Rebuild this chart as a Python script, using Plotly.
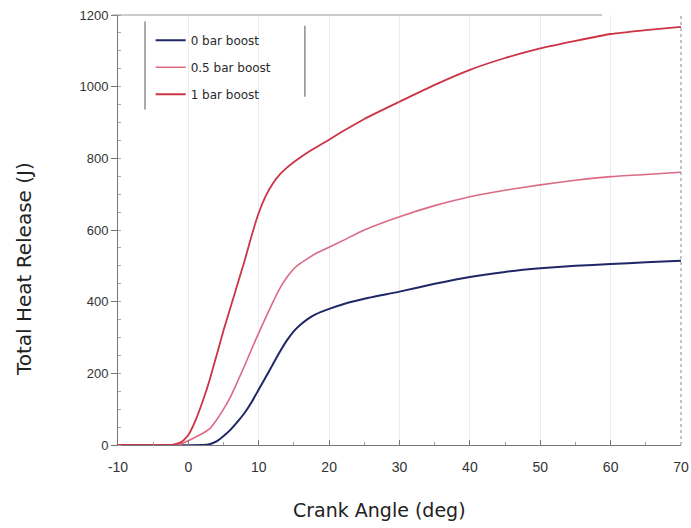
import plotly.graph_objects as go

# Crank angle (deg) and total heat release (J) for each boost level
x_0bar = [-10, 2, 3, 4, 5, 6, 7, 8, 9, 10, 11, 12, 13, 14, 15, 16, 17, 18, 20, 22, 25, 30, 35, 40, 45, 50, 55, 60, 65, 70]
y_0bar = [0, 0, 2, 10, 25, 43, 65, 90, 120, 155, 190, 225, 260, 292, 318, 337, 352, 364, 380, 393, 408, 428, 450, 469, 483, 493, 500, 505, 510, 514]

x_05bar = [-10, -2, -1, 0, 1, 2, 3, 4, 5, 6, 7, 8, 9, 10, 11, 12, 13, 14, 15, 16, 17, 18, 20, 22, 25, 30, 35, 40, 45, 50, 55, 60, 65, 70]
y_05bar = [0, 0, 3, 12, 22, 32, 45, 70, 100, 135, 178, 222, 268, 313, 356, 398, 437, 468, 492, 508, 521, 533, 552, 571, 600, 637, 668, 693, 711, 726, 739, 749, 755, 761]

x_1bar = [-10, -3, -2, -1, 0, 1, 2, 3, 4, 5, 6, 7, 8, 9, 10, 11, 12, 13, 14, 15, 16, 17, 18, 20, 22, 25, 30, 35, 40, 45, 50, 55, 60, 65, 70]
y_1bar = [0, 0, 2, 8, 28, 68, 120, 180, 250, 320, 385, 450, 515, 585, 648, 695, 730, 755, 774, 790, 804, 817, 829, 852, 876, 910, 958, 1005, 1047, 1080, 1107, 1128, 1147, 1158, 1167]

series_names = ["0 bar boost", "0.5 bar boost", "1 bar boost"]
x_ticks = [-10, 0, 10, 20, 30, 40, 50, 60, 70]
y_ticks = [0, 200, 400, 600, 800, 1000, 1200]
x_title = "Crank Angle (deg)"
y_title = "Total Heat Release (J)"

FONT = "Liberation Sans, Arial, sans-serif"
WIDE = "DejaVu Sans, Verdana, sans-serif"

fig = go.Figure()
fig.add_trace(go.Scatter(x=x_0bar, y=y_0bar, mode="lines", name=series_names[0],
                         line=dict(color="#1f2766", width=2, shape="spline", smoothing=0.5),
                         legendgroup="a"))
fig.add_trace(go.Scatter(x=x_05bar, y=y_05bar, mode="lines", name=series_names[1],
                         line=dict(color="#dc6a84", width=1.6, shape="spline", smoothing=0.5),
                         legendgroup="b"))
fig.add_trace(go.Scatter(x=x_1bar, y=y_1bar, mode="lines", name=series_names[2],
                         line=dict(color="#cc3344", width=1.8, shape="spline", smoothing=0.5),
                         legendgroup="c"))

fig.update_layout(
    width=691, height=528,
    margin=dict(l=118, r=10, t=15, b=83),
    paper_bgcolor="white", plot_bgcolor="white",
    font=dict(family=FONT, color="#333333"),
    showlegend=True,
    legend=dict(x=0.058, y=0.975, xanchor="left", yanchor="top",
                bgcolor="rgba(255,255,255,0)", borderwidth=0,
                font=dict(size=12, family=WIDE, color="#2a2a2a"),
                tracegroupgap=8, traceorder="grouped"),
    xaxis=dict(range=[-10, 70], tickvals=x_ticks, ticktext=[str(v) for v in x_ticks],
               automargin=False,
               showgrid=True, gridcolor="#ececf0", gridwidth=1,
               zeroline=False, showline=True, linecolor="#777777", linewidth=1,
               ticks="inside", ticklen=5, tickcolor="#777777",
               minor=dict(dtick=5, ticks="inside", ticklen=3, tickcolor="#999999"),
               tickfont=dict(size=14, color="#333333"), ticklabelstandoff=9),
    yaxis=dict(range=[0, 1200], tickvals=y_ticks, ticktext=[str(v) for v in y_ticks],
               automargin=False,
               showgrid=False, zeroline=False, showline=True, linecolor="#777777", linewidth=1,
               ticks="outside", ticklen=6, tickcolor="#777777",
               minor=dict(dtick=50, ticks="inside", ticklen=3, tickcolor="#aaaaaa"),
               tickfont=dict(size=13, color="#333333")),
    annotations=[
        dict(text=x_title, xref="paper", yref="paper", x=0.465, y=-0.151,
             xanchor="center", yanchor="middle", showarrow=False,
             font=dict(size=19, family=WIDE, color="#222222")),
        dict(text=y_title, xref="paper", yref="paper", x=-0.168, y=0.41,
             xanchor="center", yanchor="middle", showarrow=False, textangle=-90,
             font=dict(size=20, family=WIDE, color="#222222")),
    ],
)

# top frame line and dotted right edge
fig.add_shape(type="line", xref="paper", yref="paper", x0=-0.01, x1=0.86, y0=1, y1=1,
              line=dict(color="#999999", width=1))
fig.add_shape(type="line", xref="paper", yref="paper", x0=1, x1=1, y0=0, y1=1,
              line=dict(color="#888888", width=1, dash="dot"))
# legend box side lines
fig.add_shape(type="line", xref="paper", yref="paper", x0=0.048, x1=0.048, y0=0.78, y1=0.985,
              line=dict(color="#555555", width=1))
fig.add_shape(type="line", xref="paper", yref="paper", x0=0.332, x1=0.332, y0=0.81, y1=0.975,
              line=dict(color="#555555", width=1))

fig.write_html("out.html")
